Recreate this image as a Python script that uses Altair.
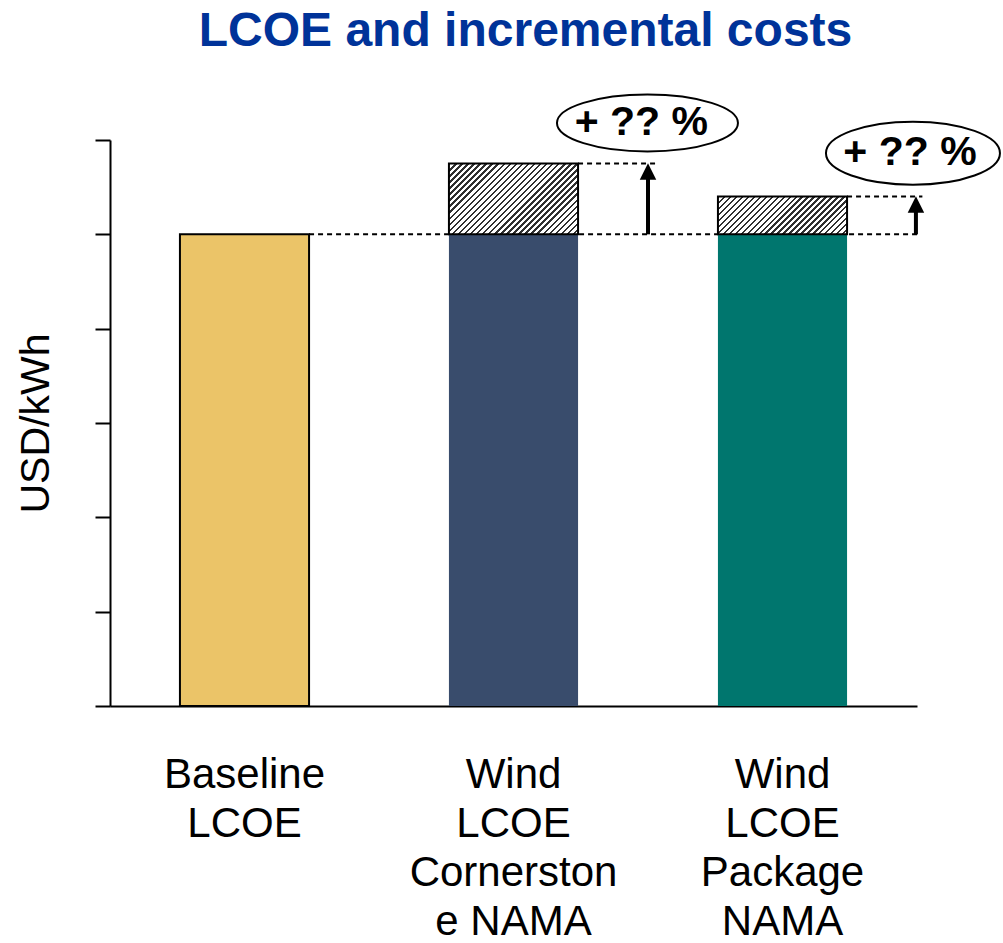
import altair as alt
import pandas as pd

# ---------------- data ----------------
categories = ["Baseline|LCOE", "Wind|LCOE|Cornerston|e NAMA", "Wind|LCOE|Package|NAMA"]
base_lcoe = [5.0, 5.0, 5.0]
total_lcoe = [5.0, 5.75, 5.40]
bar_colors = ["#EBC468", "#394C6C", "#00766E"]
bar_outline = [2, 0, 0]

# annotation layer (x in category units 0..3, y in USD/kWh units)
ref_x_start = [0.74, 1.74, 2.74]
ref_x_end = [3.01, 2.03, 3.02]
ref_y = [5.0, 5.75, 5.40]
arrow_x = [2.0, 2.996]
arrow_base = [5.0, 5.0]
arrow_top = [5.75, 5.40]
bubble_x = [1.998, 2.985]
bubble_y = [6.18, 5.86]
bubble_text = ["+ ?? %", "+ ?? %"]
text_x = [1.975, 2.974]

# ---------------- layout / style ----------------
W, H = 807, 566
FONT = "Liberation Sans"
bubble_w = [181, 174]
bubble_h = [57, 63]

df = pd.DataFrame({"cat": categories, "base": base_lcoe, "total": total_lcoe,
                   "color": bar_colors, "outline": bar_outline})
refs = pd.DataFrame({"x": ref_x_start, "x2": ref_x_end, "y": ref_y})
arrows = pd.DataFrame({"x": arrow_x, "y": arrow_base, "y2": arrow_top})
bubbles = pd.DataFrame({
    "x": bubble_x, "y": bubble_y, "tx": text_x, "label": bubble_text,
    "shape": [f"M-1,0A1,{h / w:.4f} 0 1,1 1,0A1,{h / w:.4f} 0 1,1 -1,0Z" for w, h in zip(bubble_w, bubble_h)],
    "size": [w * w for w in bubble_w],
})

yscale = alt.Scale(domain=[0, 6], nice=False, zero=True)
yaxis = alt.Axis(values=[0, 1, 2, 3, 4, 5, 6], labels=False, ticks=True, tickSize=15,
                 tickWidth=2, tickColor="black", domainColor="black", domainWidth=2,
                 grid=False, title="USD/kWh", titleFontSize=41, titleFont=FONT,
                 titleFontWeight="normal", titleColor="black", titleAngle=270,
                 titleBaseline="middle", titleAlign="center", titleX=-74, titleY=283)
band = alt.Scale(domain=categories, paddingInner=0.52, paddingOuter=0.26)
xaxis = alt.Axis(labelExpr="split(datum.label, '|')", labelFontSize=42, labelFont=FONT,
                 labelColor="black", labelLineHeight=49, labelPadding=48, labelAngle=0,
                 labelLimit=0, labelBaseline="top", ticks=False, domainColor="black",
                 domainWidth=2, title=None, grid=False)
qx = alt.Scale(domain=[0, 3], nice=False, zero=False)

bandwidth = W / 3 * 0.48
px_per_unit = H / 6


def hatch(w, h, period=6.0, frac=0.4, dark="#303030", light="#ffffff"):
    s = w + h
    n = max(1, round(s / period))
    a = w * s / (w * w + h * h)
    b = h * s / (w * w + h * h)
    stops = []
    for k in range(n):
        o0, o1, o2 = k / n, (k + frac) / n, (k + 1) / n
        stops += [alt.GradientStop(offset=o0, color=dark), alt.GradientStop(offset=o1, color=dark),
                  alt.GradientStop(offset=o1, color=light), alt.GradientStop(offset=o2, color=light)]
    return alt.LinearGradient(gradient="linear", stops=stops, x1=0, y1=0, x2=a, y2=b)


dashed = alt.Chart(refs).mark_rule(strokeDash=[5, 4], strokeWidth=2, color="black").encode(
    x=alt.X("x:Q", scale=qx, axis=None), x2="x2:Q",
    y=alt.Y("y:Q", scale=yscale, axis=yaxis))

bars = alt.Chart(df).mark_bar(stroke="black").encode(
    x=alt.X("cat:N", scale=band, axis=xaxis, sort=None),
    y=alt.Y("base:Q", scale=yscale, axis=yaxis),
    fill=alt.Fill("color:N", scale=None),
    strokeWidth=alt.StrokeWidth("outline:Q", scale=None))

hatch_layers = []
for i in range(len(categories)):
    inc = total_lcoe[i] - base_lcoe[i]
    if inc <= 0:
        continue
    sub = df.iloc[[i]]
    hatch_layers.append(
        alt.Chart(sub).mark_bar(fill=hatch(bandwidth, inc * px_per_unit), stroke="black", strokeWidth=2).encode(
            x=alt.X("cat:N", scale=band, axis=None, sort=None),
            y=alt.Y("base:Q", scale=yscale, axis=yaxis), y2="total:Q"))

shafts = alt.Chart(arrows).mark_rule(strokeWidth=4, color="black", y2Offset=10).encode(
    x=alt.X("x:Q", scale=qx, axis=None),
    y=alt.Y("y:Q", scale=yscale, axis=yaxis), y2="y2:Q")

heads = alt.Chart(arrows).mark_point(shape="M0,-1L1,1L-1,1Z", size=272, filled=True,
                                      fill="black", strokeWidth=0, opacity=1, yOffset=8).encode(
    x=alt.X("x:Q", scale=qx, axis=None),
    y=alt.Y("y2:Q", scale=yscale, axis=yaxis))

ellipses = alt.Chart(bubbles).mark_point(filled=True, fill="white", stroke="black",
                                         strokeWidth=2, opacity=1).encode(
    x=alt.X("x:Q", scale=qx, axis=None),
    y=alt.Y("y:Q", scale=yscale, axis=yaxis),
    shape=alt.Shape("shape:N", scale=None),
    size=alt.Size("size:Q", scale=None))

texts = alt.Chart(bubbles).mark_text(font=FONT, fontSize=41, fontWeight="bold", color="black",
                                     baseline="middle", align="center").encode(
    x=alt.X("tx:Q", scale=qx, axis=None),
    y=alt.Y("y:Q", scale=yscale, axis=yaxis),
    text="label:N")

chart = alt.layer(dashed, bars, *hatch_layers, shafts, heads, ellipses, texts).resolve_scale(
    x="independent"
).properties(
    width=W, height=H,
    title=alt.TitleParams("LCOE and incremental costs", font=FONT, fontSize=48, fontWeight="bold",
                          color="#003399", anchor="middle", frame="group", baseline="alphabetic",
                          offset=48, dx=12, dy=51),
    autosize=alt.AutoSizeParams(type="none"),
    padding={"left": 110, "top": 140, "right": 86, "bottom": 237},
    background="white",
).configure_view(strokeWidth=0, stroke="transparent")

chart.save("out.html", embed_options={"renderer": "svg", "actions": False})
